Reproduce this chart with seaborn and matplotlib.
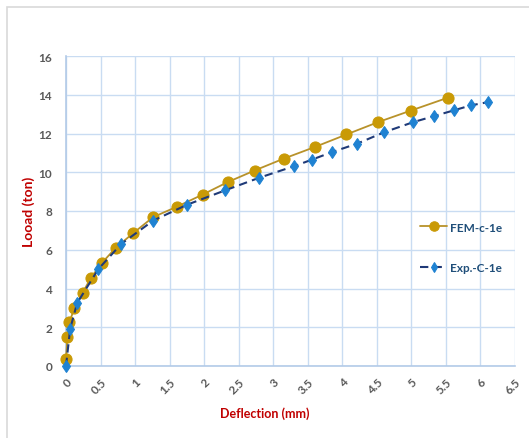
import matplotlib
matplotlib.use("Agg")
import matplotlib.pyplot as plt
from matplotlib.patches import Rectangle
import seaborn as sns
import pandas as pd

# ---- data ----
fem_defl = [0, 0, 0.02, 0.05, 0.12, 0.24, 0.36, 0.52, 0.72, 0.97, 1.26, 1.61, 1.98,
            2.34, 2.73, 3.15, 3.60, 4.06, 4.52, 4.99, 5.53]
fem_load = [0, 0.7, 1.5, 2.26, 2.98, 3.77, 4.55, 5.32, 6.1, 6.85, 7.68, 8.23, 8.85,
            9.49, 10.09, 10.7, 11.3, 11.95, 12.59, 13.18, 13.85]
exp_defl = [0, 0.06, 0.16, 0.47, 0.80, 1.26, 1.75, 2.30, 2.80, 3.30, 3.56, 3.85,
            4.21, 4.61, 5.03, 5.33, 5.61, 5.86, 6.11]
exp_load = [0, 1.91, 3.24, 5.01, 6.3, 7.5, 8.32, 9.06, 9.72, 10.31, 10.65, 11.04,
            11.47, 12.07, 12.59, 12.9, 13.19, 13.45, 13.62]
series_names = ["FEM-c-1e", "Exp.-C-1e"]
x_ticks = [0, 0.5, 1, 1.5, 2, 2.5, 3, 3.5, 4, 4.5, 5, 5.5, 6, 6.5]
y_ticks = [0, 2, 4, 6, 8, 10, 12, 14, 16]
x_label = "Deflection (mm)"
y_label = "Looad (ton)"

sns.set_theme(style="white")
plt.rcParams["font.family"] = ["Lato", "DejaVu Sans"]

W, H = 529, 439
fig = plt.figure(figsize=(W / 100, H / 100), dpi=100)
fig.patch.set_facecolor("white")
# outer chart border
fig.patches.append(Rectangle((7 / W, -0.1), 1.2, (H - 8) / H + 0.1,
                             transform=fig.transFigure, fill=False,
                             edgecolor="#D9D9D9", linewidth=1.2))

ax = fig.add_axes([66 / W, (H - 367) / H, 449 / W, 310 / H])

fem_df = pd.DataFrame({"x": fem_defl, "y": fem_load})
exp_df = pd.DataFrame({"x": exp_defl, "y": exp_load})

sns.lineplot(data=fem_df, x="x", y="y", ax=ax, sort=False, color="#B8922A",
             linewidth=1.3, marker="o", markersize=8, markerfacecolor="#C99A06",
             markeredgecolor="#C99A06", label=series_names[0], zorder=3,
             clip_on=False)
sns.lineplot(data=exp_df, x="x", y="y", ax=ax, sort=False, color="#1F3A78",
             linewidth=1.5, linestyle=(0, (4, 2.5)), marker="d", markersize=6,
             markerfacecolor="#1F82D2", markeredgecolor="#1F82D2",
             label=series_names[1], zorder=4, clip_on=False)

ax.set_xlim(0, 6.5)
ax.set_ylim(0, 16)
ax.set_xticks(x_ticks)
ax.set_yticks(y_ticks)
ax.set_xticklabels([f"{t:g}" for t in x_ticks], rotation=45, ha="right",
                   rotation_mode="anchor")
ax.grid(True, color="#C9DCF2", linewidth=1.0)
ax.set_axisbelow(True)
for s in ["top", "right"]:
    ax.spines[s].set_visible(False)
for s in ["left", "bottom"]:
    ax.spines[s].set_color("#B3CBE8")
    ax.spines[s].set_linewidth(1.2)
ax.tick_params(axis="both", length=0, labelsize=8.5, labelcolor="#595959")
ax.tick_params(axis="x", pad=7)
ax.tick_params(axis="y", pad=10)
for lab in ax.get_xticklabels() + ax.get_yticklabels():
    lab.set_fontweight("bold")

ax.set_xlabel(x_label, color="#C00000", fontsize=9, fontweight="bold")
ax.set_ylabel(y_label, color="#C00000", fontsize=10, fontweight="bold")
ax.xaxis.set_label_coords((265 - 66) / 449, -(407 - 367) / 310)
ax.yaxis.set_label_coords(-(66 - 35) / 449, 0.5)

leg = ax.legend(loc="upper left", bbox_to_anchor=(0.765, 0.5), frameon=False,
                labelspacing=2.5, handlelength=2.3, handletextpad=0.2,
                fontsize=8.5, markerscale=0.85)
for t in leg.get_texts():
    t.set_color("#1F4E79")
    t.set_fontweight("bold")

fig.savefig("out.png", dpi=100, facecolor="white")
